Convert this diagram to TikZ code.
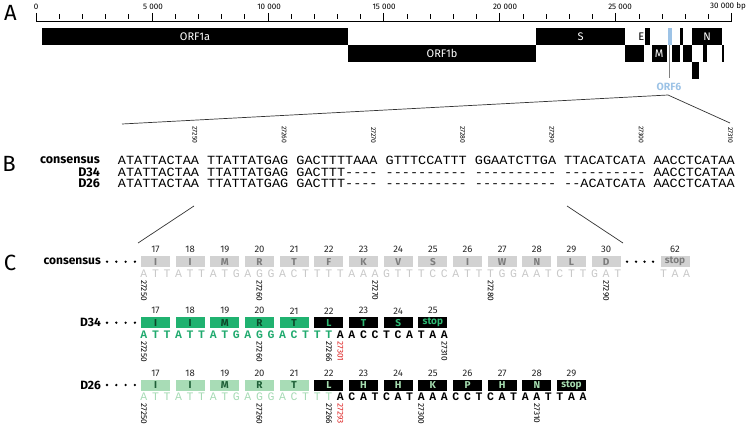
\documentclass[tikz,border=0pt]{standalone}
\usepackage{fontspec}
\setmainfont{Fira Sans}
\setmonofont{Liberation Mono}
\usetikzlibrary{calc}
\definecolor{orfblue}{RGB}{157,195,230}
\definecolor{cgbox}{RGB}{210,210,210}
\definecolor{cgtext}{RGB}{125,125,125}
\definecolor{cgnt}{RGB}{200,200,200}
\definecolor{gbox}{RGB}{32,178,112}
\definecolor{gtext}{RGB}{12,70,40}
\definecolor{gnt}{RGB}{32,170,110}
\definecolor{gonblack}{RGB}{45,185,115}
\definecolor{lgbox}{RGB}{168,220,182}
\definecolor{lgtext}{RGB}{30,95,55}
\definecolor{lgnt}{RGB}{165,218,180}
\definecolor{lgonblack}{RGB}{165,220,175}
\definecolor{posred}{RGB}{220,30,30}
\begin{document}
\begin{tikzpicture}[x=1pt,y=-1pt,
  panel/.style={font=\fontsize{22}{22}\selectfont,inner sep=0pt},
  orfbar/.style={fill=black},
  orflab/.style={text=white,font=\fontsize{11}{11}\selectfont,inner sep=0pt},
  rulerline/.style={line width=0.8pt,black},
  rulerlab/.style={font=\fontsize{8}{8}\selectfont,inner sep=0pt},
  zoomline/.style={line width=0.7pt,black!80},
  rowlabB/.style={font=\bfseries\fontsize{12.5}{12.5}\selectfont,anchor=east,inner sep=0pt},
  rowlabC/.style={font=\bfseries\fontsize{12}{12}\selectfont,anchor=east,inner sep=0pt},
  seqtxt/.style={font=\ttfamily\fontsize{12.5}{12.5}\selectfont,anchor=west,inner sep=0pt,xscale=1.082},
  bpos/.style={font=\fontsize{6.8}{6.8}\selectfont,rotate=-90,anchor=east,inner sep=0pt},
  cpos/.style={font=\fontsize{8.3}{8.3}\selectfont,rotate=-90,anchor=west,inner sep=0pt},
  codon/.style={minimum width=29pt,minimum height=11pt,inner sep=0pt,font=\bfseries\fontsize{10}{10}\selectfont},
  cnum/.style={font=\fontsize{9.5}{9.5}\selectfont,inner sep=0pt,text=black!85},
  ntc/.style={font=\ttfamily\fontsize{11.5}{11.5}\selectfont,inner sep=0pt},
  ntb/.style={font=\ttfamily\bfseries\fontsize{11.5}{11.5}\selectfont,inner sep=0pt},
]
\useasboundingbox (0,0) rectangle (750,425);

% ---------------- Panel A ----------------
\node[panel] (labA) at (10.5,13) {A};
\coordinate (r0) at (36,21);
\coordinate (r30) at (731.7,21);
\draw[rulerline] (r0) -- (r30);
\foreach \q in {1,...,29} \draw[rulerline] ({36+23.19*\q},14.5) -- ({36+23.19*\q},19);
\foreach \q in {0,5,...,30} \draw[rulerline] ({36+23.19*\q},13) -- ({36+23.19*\q},21);
\node[rulerlab] (t0) at (36,6.5) {0};
\node[rulerlab] (t5) at (153,6.5) {5 000};
\node[rulerlab] (t10) at (269,6.5) {10 000};
\node[rulerlab] (t15) at (384,6.5) {15 000};
\node[rulerlab] (t20) at (505,6.5) {20 000};
\node[rulerlab] (t25) at (620,6.5) {25 000};
\node[rulerlab] (t30) at (728,6.5) {30 000 bp};

% genome bars
\path[orfbar] (42,28) rectangle (348.3,45);
\path[orfbar] (348.3,45) rectangle (536,62);
\path[orfbar] (536,28) rectangle (625,45);
\path[orfbar] (625,45) rectangle (644,62);
\path[orfbar] (645,28) rectangle (650,45);
\path[orfbar] (651.7,45) rectangle (666.7,62);
\path[orfbar] (671.7,45) rectangle (680,62);
\path[orfbar] (680,28) rectangle (682.7,45);
\path[orfbar] (683.3,45) rectangle (691.7,62);
\path[orfbar] (692.3,28) rectangle (721.5,45);
\path[orfbar] (692.3,62) rectangle (698.5,79);
\path[orfbar] (703.3,45) rectangle (707.3,62);
\path[orfbar] (721.7,45) rectangle (724.3,62);
\node[orflab] (lORF1a) at (195,36.5) {ORF1a};
\node[orflab] (lORF1b) at (442,53.5) {ORF1b};
\node[orflab] (lS) at (580.5,36.5) {S};
\node[orflab] (lN) at (707,36.5) {N};
\node[orflab] (lM) at (659.2,53.5) {M};
\node[orflab,text=black] (lE) at (641.3,36.5) {E};
\node[fill=orfblue,minimum width=4pt,minimum height=17pt,inner sep=0pt] (orf6) at (669.5,36.5) {};
\node[font=\bfseries\fontsize{10.5}{10.5}\selectfont,text=orfblue,inner sep=0pt] (orf6lab) at (669,87) {ORF6};
\draw[gray,line width=0.9pt,shorten >=5pt] (orf6.south) -- (orf6.south |- orf6lab.north);

% zoom lines
\coordinate (zl) at (122,124);
\coordinate (za) at (668,95);
\coordinate (zr) at (730,123);
\draw[zoomline] (zl) -- (za) -- (zr);

% ---------------- Panel B ----------------
\node[panel] (labB) at (9,164) {B};
\node[rowlabB] (bcons) at (100,160.3) {consensus};
\node[rowlabB] (bD34) at (100,172) {D34};
\node[rowlabB] (bD26) at (100,183.5) {D26};
\node[seqtxt] (sqcons) at (117.7,160.3) {ATATTACTAA TTATTATGAG GACTTTTAAA GTTTCCATTT GGAATCTTGA TTACATCATA AACCTCATAA};
\node[seqtxt] (sqD34) at (117.7,172) {ATATTACTAA TTATTATGAG GACTTT---- ---------- ---------- ---------- AACCTCATAA};
\node[seqtxt] (sqD26) at (117.7,183.5) {ATATTACTAA TTATTATGAG GACTTT---- ---------- ---------- --ACATCATA AACCTCATAA};
\foreach \q/\lab in {0/27250,1/27260,2/27270,3/27280,4/27290,5/27300,6/27310}
  \node[bpos] (bp\lab) at ({117.7+(11*\q+9.5)*8.115},143.5) {\lab};

% B to C lines
\coordinate (bc1a) at (194,206);
\coordinate (bc1b) at (138,243);
\coordinate (bc2a) at (567,206);
\coordinate (bc2b) at (623,243);
\draw[zoomline] (bc1a) -- (bc1b);
\draw[zoomline] (bc2a) -- (bc2b);

% ---------------- Panel C ----------------
\node[panel] (labC) at (10,263) {C};

% consensus
\node[rowlabC] (ccons) at (101,261.7) {consensus};
\foreach \q in {107,116.3,125.6,134.9} \fill (\q,261.7) circle (1.3pt);
\foreach \q in {627,636,644.5,653} \fill (\q,261.7) circle (1.3pt);
\foreach \aa [count=\jj from 0] in {I,I,M,R,T,F,K,V,S,I,W,N,L,D} {
  \pgfmathsetmacro\bx{155.5+34.67*\jj}
  \pgfmathtruncatemacro\num{17+\jj}
  \node[codon,fill=cgbox,text=cgtext] (cc\num) at (\bx,261.7) {\aa};
  \node[cnum] (ccn\num) at (\bx,249.3) {\num};
}
\node[codon,fill=cgbox,text=cgtext] (cc62) at (675,261.7) {stop};
\node[cnum] (ccn62) at (675,249.3) {62};
\foreach \nt [count=\kk from 0] in {A,T,T,A,T,T,A,T,G,A,G,G,A,C,T,T,T,T,A,A,A,G,T,T,T,C,C,A,T,T,T,G,G,A,A,T,C,T,T,G,A,T}
  \node[ntc,text=cgnt] (cn\kk) at ({143.9+11.556*\kk},273.7) {\nt};
\node[ntc,text=cgnt] (cns1) at (663.5,273.7) {T};
\node[ntc,text=cgnt] (cns2) at (675,273.7) {A};
\node[ntc,text=cgnt] (cns3) at (686.5,273.7) {A};
\foreach \p/\lab in {0/27250,10/27260,20/27270,30/27280,40/27290}
  \node[cpos] (cp\lab) at ({143.9+11.556*\p},280.2) {\lab};

% D34
\node[rowlabC] (cD34) at (101,322.7) {D34};
\foreach \q in {107,116.3,125.6,134.9} \fill (\q,322.7) circle (1.3pt);
\foreach \aa [count=\jj from 0] in {I,I,M,R,T} {
  \pgfmathsetmacro\bx{155.5+34.67*\jj}
  \pgfmathtruncatemacro\num{17+\jj}
  \node[codon,fill=gbox,text=gtext] (dc\num) at (\bx,322.7) {\aa};
  \node[cnum] (dcn\num) at (\bx,310.8) {\num};
}
\foreach \aa [count=\jj from 5] in {L,T,S,stop} {
  \pgfmathsetmacro\bx{155.5+34.67*\jj}
  \pgfmathtruncatemacro\num{17+\jj}
  \node[codon,fill=black,text=gonblack] (dc\num) at (\bx,322.7) {\aa};
  \node[cnum] (dcn\num) at (\bx,310.8) {\num};
}
\foreach \nt [count=\kk from 0] in {A,T,T,A,T,T,A,T,G,A,G,G,A,C,T,T,T}
  \node[ntb,text=gnt] (dn\kk) at ({143.9+11.556*\kk},334.5) {\nt};
\foreach \nt [count=\kk from 17] in {A,A,C,C,T,C,A,T,A,A}
  \node[ntb,text=black] (dn\kk) at ({143.9+11.556*\kk},334.5) {\nt};
\foreach \p/\lab in {0/27250,10/27260,16/27266,26/27310}
  \node[cpos] (dp\lab) at ({143.9+11.556*\p},341.2) {\lab};
\node[cpos,text=posred] (dp27301) at ({143.9+11.556*17},341.2) {27301};

% D26
\node[rowlabC] (cD26) at (101,385) {D26};
\foreach \q in {107,116.3,125.6,134.9} \fill (\q,385) circle (1.3pt);
\foreach \aa [count=\jj from 0] in {I,I,M,R,T} {
  \pgfmathsetmacro\bx{155.5+34.67*\jj}
  \pgfmathtruncatemacro\num{17+\jj}
  \node[codon,fill=lgbox,text=lgtext] (ec\num) at (\bx,385) {\aa};
  \node[cnum] (ecn\num) at (\bx,373.1) {\num};
}
\foreach \aa [count=\jj from 5] in {L,H,H,K,P,H,N,stop} {
  \pgfmathsetmacro\bx{155.5+34.67*\jj}
  \pgfmathtruncatemacro\num{17+\jj}
  \node[codon,fill=black,text=lgonblack] (ec\num) at (\bx,385) {\aa};
  \node[cnum] (ecn\num) at (\bx,373.1) {\num};
}
\foreach \nt [count=\kk from 0] in {A,T,T,A,T,T,A,T,G,A,G,G,A,C,T,T,T}
  \node[ntc,text=lgnt] (en\kk) at ({143.9+11.556*\kk},397) {\nt};
\foreach \nt [count=\kk from 17] in {A,C,A,T,C,A,T,A,A,A,C,C,T,C,A,T,A,A,T,T,A,A}
  \node[ntb,text=black] (en\kk) at ({143.9+11.556*\kk},397) {\nt};
\foreach \p/\lab in {0/27250,10/27260,16/27266,24/27300,34/27310}
  \node[cpos] (ep\lab) at ({143.9+11.556*\p},403.3) {\lab};
\node[cpos,text=posred] (ep27293) at ({143.9+11.556*17},403.3) {27293};
\end{tikzpicture}
\end{document}
